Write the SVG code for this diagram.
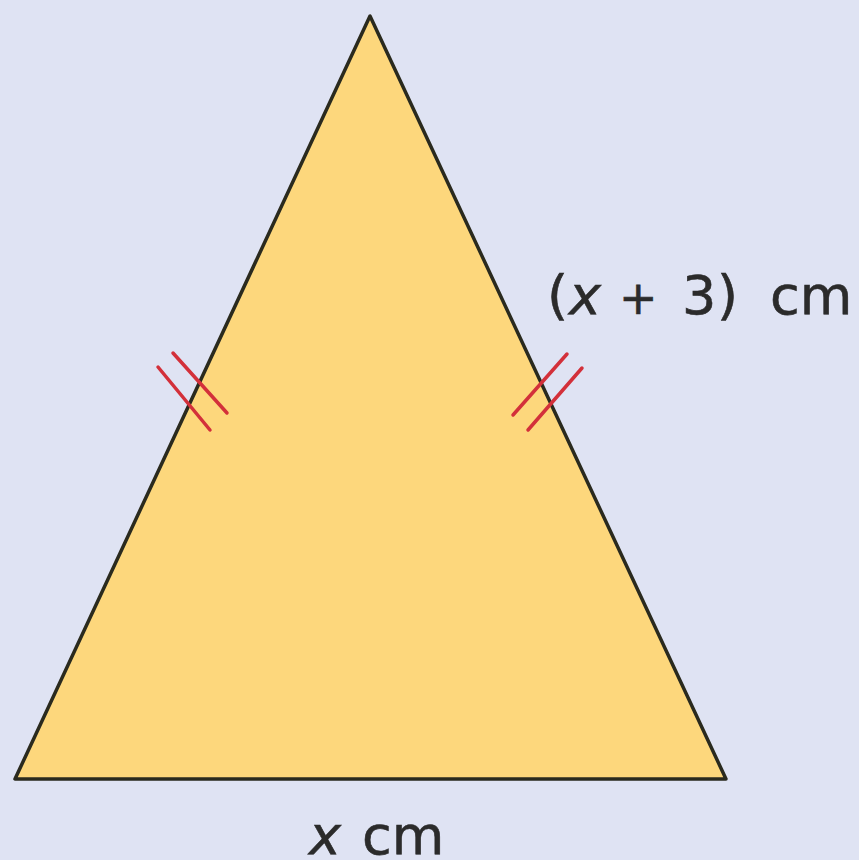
<svg xmlns="http://www.w3.org/2000/svg" width="859" height="860" viewBox="0 0 859 860">
<style>
.lbl{font-family:"DejaVu Sans","Verdana",sans-serif;font-size:54px;fill:#2b2b2b;stroke:#2b2b2b;stroke-width:0.6}
.it{font-style:italic}
.tick{stroke:#d3303a;stroke-width:3.5;stroke-linecap:round;fill:none}
</style>
<rect width="859" height="860" fill="#dfe3f3"/>
<g id="triangle">
<polygon points="370,16 15,779 726,779" fill="#fdd77c" stroke="#2a2a1e" stroke-width="3.5" stroke-linejoin="round"/>
</g>
<g id="ticks">
<line class="tick" x1="158" y1="367" x2="210" y2="430"/>
<line class="tick" x1="173" y1="353" x2="227" y2="413"/>
<line class="tick" x1="513" y1="415" x2="567" y2="354"/>
<line class="tick" x1="528" y1="430" x2="582" y2="368"/>
</g>
<g id="labels">
<text class="lbl" y="314"><tspan x="547">(</tspan><tspan class="it" x="569">x</tspan><tspan x="619" font-size="46">+</tspan><tspan x="682">3</tspan><tspan x="717">)</tspan><tspan x="770">cm</tspan></text>
<text class="lbl" y="854"><tspan class="it" x="309">x</tspan><tspan x="362">cm</tspan></text>
</g>
</svg>
